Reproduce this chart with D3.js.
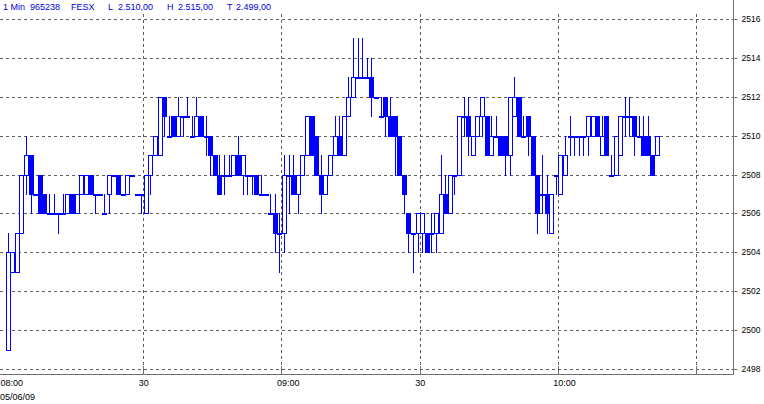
<!DOCTYPE html>
<html><head><meta charset="utf-8">
<script src="https://cdn.jsdelivr.net/npm/d3@7/dist/d3.min.js"></script>
<style>html,body{margin:0;padding:0;background:#fff;} svg{display:block;}</style>
</head><body>
<svg id="chart" width="764" height="404"></svg>
<script>
// ---- data (1-minute FESX candles from 08:00) ----
const sessionStart = "08:00";
const opens = [
2499,2503,2503,2505,2508,2509,2507,2508,2507,2506,
2506,2506,2506,2506,2507,2506,2507,2507,2508,2507,
2507,2506,2507,2508,2508,2507,2507,2508,2507,2507,
2506,2508,2509,2509,2512,2510,2511,2510,2511,2511,
2510,2510,2511,2510,2510,2509,2508,2508,2508,2508,
2509,2508,2508,2508,2508,2507,2507,2506,2506,2505,
2505,2508,2508,2507,2508,2509,2511,2510,2508,2507,
2508,2509,2510,2509,2511,2512,2513,2513,2513,2513,
2512,2511,2512,2511,2511,2510,2508,2506,2505,2505,
2505,2505,2505,2505,2505,2507,2506,2508,2508,2511,
2511,2509,2510,2511,2511,2509,2510,2510,2510,2509,
2511,2512,2510,2511,2510,2508,2507,2507,2505,2508,
2507,2508,2510,2510,2510,2510,2510,2510,2511,2509,
2511,2508,2508,2509,2511,2511,2511,2510,2510,2510,
2509,2509];
const highs = [
2505,2504,2505,2508,2510,2509,2507,2508,2507,2507,
2507,2506,2507,2507,2507,2507,2508,2508,2508,2507,
2507,2507,2508,2508,2508,2507,2508,2508,2507,2507,
2508,2509,2510,2512,2512,2511,2511,2512,2511,2512,
2511,2512,2511,2511,2510,2509,2509,2509,2509,2509,
2510,2509,2508,2508,2508,2508,2507,2507,2507,2506,
2509,2509,2509,2508,2509,2511,2511,2510,2509,2508,
2509,2511,2511,2511,2513,2515,2515,2515,2514,2514,
2512,2512,2512,2512,2511,2510,2508,2506,2505,2506,
2506,2505,2506,2506,2509,2508,2508,2508,2511,2512,
2512,2510,2511,2512,2511,2511,2511,2510,2510,2512,
2513,2512,2511,2511,2510,2508,2509,2508,2507,2508,
2509,2510,2511,2510,2510,2510,2511,2511,2511,2511,
2511,2509,2510,2511,2512,2512,2511,2511,2511,2511,
2509,2510];
const lows = [
2499,2503,2503,2505,2507,2506,2507,2506,2506,2506,
2506,2505,2506,2506,2506,2506,2507,2507,2507,2506,
2507,2506,2506,2508,2507,2507,2507,2508,2507,2506,
2506,2507,2509,2509,2510,2510,2510,2510,2510,2511,
2510,2510,2510,2509,2508,2508,2507,2507,2508,2508,
2508,2507,2507,2507,2507,2507,2507,2506,2504,2503,
2504,2506,2507,2506,2508,2509,2509,2508,2506,2507,
2508,2509,2509,2509,2511,2512,2513,2513,2513,2511,
2512,2511,2510,2510,2508,2508,2506,2504,2503,2504,
2504,2504,2504,2504,2505,2506,2506,2507,2508,2510,
2509,2509,2510,2510,2509,2509,2510,2509,2508,2508,
2511,2510,2510,2509,2508,2505,2506,2505,2505,2507,
2507,2508,2509,2509,2509,2509,2509,2510,2510,2509,
2509,2508,2508,2509,2510,2510,2509,2510,2509,2509,
2508,2509];
const closes = [
2504,2504,2505,2508,2509,2507,2507,2506,2506,2506,
2506,2506,2506,2507,2506,2507,2508,2508,2507,2507,
2507,2506,2508,2508,2507,2507,2508,2508,2507,2507,
2508,2509,2510,2512,2511,2510,2510,2511,2511,2511,
2510,2511,2510,2510,2509,2508,2507,2508,2508,2509,
2508,2509,2508,2508,2507,2507,2507,2506,2505,2505,
2508,2508,2507,2508,2509,2511,2509,2508,2507,2508,
2509,2510,2509,2511,2512,2513,2513,2513,2513,2512,
2512,2511,2511,2510,2510,2508,2507,2505,2505,2506,
2506,2504,2505,2506,2507,2506,2508,2508,2511,2511,
2510,2510,2511,2512,2509,2510,2510,2509,2509,2512,
2512,2510,2510,2510,2508,2506,2507,2506,2507,2508,
2509,2509,2510,2510,2510,2510,2511,2511,2510,2510,
2509,2508,2510,2511,2511,2511,2510,2510,2509,2509,
2508,2510];

const priceTicks = [2498,2500,2502,2504,2506,2508,2510,2512,2514,2516];
const timeTicks = ["08:00","08:30","09:00","09:30","10:00","10:30"];
const timeTickLabels = ["08:00","30","09:00","30","10:00",""];
const dateLabel = "05/06/09";
const headerTexts = ["1 Min","965238","FESX","L","2.510,00","H","2.515,00","T","2.499,00"];
const headerX = [3,30,71,108,118,167,178,227,236];

// ---- setup ----
const svg = d3.select("#chart");
const parse = d3.timeParse("%H:%M");
const t0 = parse(sessionStart);
const candles = opens.map((o,i)=>({t:d3.timeMinute.offset(t0,i),o,h:highs[i],l:lows[i],c:closes[i]}));

const x = d3.scaleTime().domain([parse("08:00"),parse("10:30")]).range([5.6,696.5]);
const y = d3.scaleLinear().domain([2498,2516]).range([369.5,19.5]);
const snap = v => Math.floor(v)+0.5;

const GRID = "#5e5e5e", AXIS = "#707070", BLUE = "#0000ff";
const FONT = "'Liberation Sans', Arial, sans-serif";

svg.append("rect").attr("width",764).attr("height",404).attr("fill","#fff");

// horizontal grid
svg.append("g").selectAll("line").data(priceTicks).join("line")
  .attr("x1",0).attr("x2",733).attr("y1",d=>snap(y(d))).attr("y2",d=>snap(y(d)))
  .attr("stroke",GRID).attr("stroke-dasharray","3,3").attr("shape-rendering","crispEdges");

// vertical grid (skip session start)
svg.append("g").selectAll("line").data(timeTicks.slice(1)).join("line")
  .attr("x1",d=>snap(x(parse(d)))).attr("x2",d=>snap(x(parse(d))))
  .attr("y1",14).attr("y2",374)
  .attr("stroke",GRID).attr("stroke-dasharray","3,3").attr("shape-rendering","crispEdges");

// y axis (right)
const yAxis = d3.axisRight(y).tickValues(priceTicks).tickSize(4).tickPadding(4).tickFormat(d3.format("d"));
const yg = svg.append("g").attr("transform","translate(733.5,0.5)").call(yAxis);
yg.select(".domain").remove();
yg.selectAll(".tick line").attr("stroke",AXIS).attr("x1",-2).attr("y1",0).attr("y2",0);
yg.selectAll(".tick").attr("transform",d=>`translate(0,${Math.floor(y(d))})`);
yg.selectAll(".tick text").attr("font-family",FONT).attr("font-size","8.5px").attr("fill","#000").attr("x",8).attr("dy","0.33em");
svg.append("line").attr("x1",733.5).attr("x2",733.5).attr("y1",0).attr("y2",374.5).attr("stroke",AXIS);

// x axis
svg.append("line").attr("x1",0).attr("x2",734).attr("y1",374.5).attr("y2",374.5).attr("stroke",AXIS);
const xAxis = d3.axisBottom(x).tickValues(timeTicks.map(parse)).tickSize(0)
  .tickFormat((d,i)=>timeTickLabels[i]);
const xg = svg.append("g").attr("transform","translate(0,374)").call(xAxis);
xg.select(".domain").remove();
xg.selectAll(".tick text").attr("font-family",FONT).attr("font-size","9px").attr("fill","#000")
  .attr("text-anchor","start").attr("x",-5.5).attr("y",11.5).attr("dy",null);
svg.append("g").selectAll("line").data(timeTicks.slice(1)).join("line")
  .attr("x1",d=>snap(x(parse(d)))).attr("x2",d=>snap(x(parse(d))))
  .attr("y1",366).attr("y2",374).attr("stroke",AXIS);
svg.append("text").attr("x",0).attr("y",400).attr("font-family",FONT).attr("font-size","9px").attr("fill","#000").text(dateLabel);

// header
svg.append("g").selectAll("text").data(headerTexts).join("text")
  .attr("x",(d,i)=>headerX[i]).attr("y",9.5)
  .attr("font-family",FONT).attr("font-size","9px").attr("fill","#0000e0").text(d=>d);

// candles
const cg = svg.append("g");
candles.forEach(d=>{
  const left = Math.round(x(d.t));
  const wx = left + 2.5;
  cg.append("line").attr("x1",wx).attr("x2",wx)
    .attr("y1",Math.floor(y(d.h))).attr("y2",Math.floor(y(d.l))+1)
    .attr("stroke",BLUE).attr("shape-rendering","crispEdges");
});
candles.forEach(d=>{
  const left = Math.round(x(d.t));
  if (d.o === d.c) {
    cg.append("rect").attr("x",left).attr("y",Math.floor(y(d.o))-0.5).attr("width",5).attr("height",2)
      .attr("fill",BLUE).attr("shape-rendering","crispEdges");
  } else {
    const top = snap(y(Math.max(d.o,d.c))), bot = snap(y(Math.min(d.o,d.c)));
    cg.append("rect").attr("x",left+0.5).attr("y",top).attr("width",4).attr("height",bot-top)
      .attr("fill", d.c > d.o ? "#fff" : BLUE).attr("stroke",BLUE).attr("stroke-width",1)
      .attr("shape-rendering","crispEdges");
  }
});
</script>
</body></html>
